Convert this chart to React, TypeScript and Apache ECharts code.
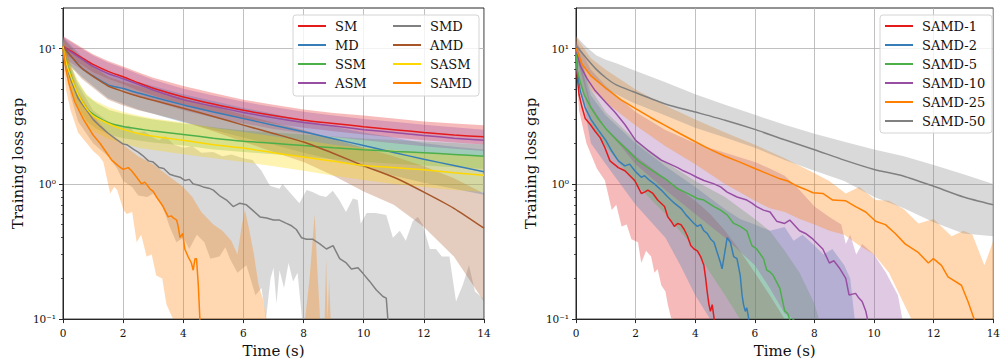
import React, { useEffect, useRef } from 'react';
import * as echarts from 'echarts';

type Pt = [number, number];

const FONT = 'DejaVu Serif';
const AXIS = '#262626';
const GRIDLINE = '#b0b0b0';

// ---------- axis ticks ----------
const xMin = 0, xMax = 14, xStep = 2;
const yMin = 0.1, yMax = 20;
const yMajorTicks = [0.1, 1, 10];
const yTickLabels = ['10⁻¹', '10⁰', '10¹'];
const yMinorTicks = [0.2, 0.3, 0.4, 0.5, 0.6, 0.7, 0.8, 0.9, 2, 3, 4, 5, 6, 7, 8, 9, 20];

// ---------- left panel ----------
const leftNames = ['SM', 'MD', 'SSM', 'ASM', 'SMD', 'AMD', 'SASM', 'SAMD'];
const leftColors = ['#e41a1c', '#377eb8', '#4daf4a', '#984ea3', '#808080', '#a65628', '#ffd700', '#ff7f00'];

const smX = [0, 0.62, 1, 1.5, 2, 2.5, 3, 4, 5, 6, 7, 8, 9, 10, 11, 12, 13, 14];
const smMean = [10.4, 8.6, 7.65, 6.8, 6.2, 5.6, 5.1, 4.4, 3.9, 3.5, 3.2, 2.96, 2.8, 2.65, 2.52, 2.4, 2.3, 2.23];
const smHi = [12.4, 10.2, 9.1, 8.1, 7.4, 6.7, 6.1, 5.3, 4.7, 4.2, 3.85, 3.55, 3.35, 3.2, 3.05, 2.9, 2.8, 2.72];
const smLo = [9.2, 7.6, 6.7, 6.0, 5.45, 4.9, 4.5, 3.85, 3.4, 3.05, 2.8, 2.6, 2.45, 2.32, 2.2, 2.1, 2.02, 1.96];

const asmMean = [10.3, 8.4, 7.4, 6.55, 6.0, 5.45, 4.95, 4.2, 3.75, 3.38, 3.08, 2.85, 2.68, 2.52, 2.4, 2.28, 2.18, 2.1];
const asmHi = [12.2, 10.0, 8.9, 7.9, 7.2, 6.5, 5.9, 5.05, 4.5, 4.05, 3.7, 3.42, 3.2, 3.02, 2.88, 2.74, 2.62, 2.52];
const asmLo = [8.6, 7.0, 6.1, 5.4, 5.0, 4.5, 4.1, 3.5, 3.1, 2.8, 2.55, 2.37, 2.22, 2.1, 2.0, 1.9, 1.82, 1.75];

const mdX = [0, 0.62, 1.5, 2, 2.5, 3, 4, 5, 6, 7, 8, 9, 10, 11, 12, 13, 14];
const mdMean = [10.4, 7.2, 5.4, 5.07, 4.7, 4.4, 3.84, 3.4, 3.04, 2.72, 2.43, 2.16, 1.92, 1.71, 1.52, 1.37, 1.23];
const mdHi = [12.2, 8.8, 6.5, 6.1, 5.65, 5.3, 4.6, 4.1, 3.65, 3.3, 2.95, 2.65, 2.4, 2.2, 2.0, 1.88, 1.8];
const mdLo = [8.5, 6.2, 4.3, 3.9, 3.55, 3.3, 2.85, 2.5, 2.2, 1.95, 1.7, 1.5, 1.32, 1.15, 1.02, 0.92, 0.83];

const amdMean = [10.4, 7.2, 5.3, 4.83, 4.45, 4.15, 3.63, 3.15, 2.72, 2.36, 2.04, 1.68, 1.36, 1.12, 0.87, 0.66, 0.47];
const amdHi = [12.0, 8.4, 6.2, 5.7, 5.3, 4.9, 4.3, 3.75, 3.25, 2.85, 2.5, 2.15, 1.85, 1.6, 1.35, 1.1, 0.85];
const amdLo = [8.5, 6.0, 4.2, 3.8, 3.5, 3.3, 2.9, 2.45, 2.05, 1.72, 1.45, 1.15, 0.88, 0.7, 0.48, 0.29, 0.135];

const ssmX = [0, 0.1, 0.23, 0.45, 0.79, 1.12, 1.56, 2, 2.67, 3, 4, 5, 6, 7, 8, 9, 10, 11, 12, 13, 14];
const ssmMean = [10.1, 8.2, 6.7, 4.8, 3.6, 3.15, 2.81, 2.66, 2.52, 2.46, 2.32, 2.18, 2.07, 2.0, 1.92, 1.85, 1.79, 1.74, 1.7, 1.65, 1.6];
const ssmHi = [11.8, 9.6, 7.9, 5.9, 4.5, 3.95, 3.5, 3.3, 3.08, 3.0, 2.8, 2.62, 2.48, 2.4, 2.32, 2.24, 2.17, 2.11, 2.06, 2.01, 1.96];
const ssmLo = [8.6, 6.9, 5.6, 3.9, 2.9, 2.55, 2.3, 2.18, 2.07, 2.02, 1.92, 1.8, 1.72, 1.66, 1.59, 1.52, 1.46, 1.41, 1.37, 1.33, 1.29];

const sasmX = [0, 0.1, 0.25, 0.5, 0.75, 1, 1.5, 2, 2.5, 3, 4, 5, 6, 7, 8, 9, 10, 11, 12, 13, 14];
const sasmMean = [10.4, 8.0, 6.3, 4.6, 3.7, 3.2, 2.8, 2.53, 2.36, 2.25, 2.1, 1.95, 1.84, 1.7, 1.58, 1.47, 1.37, 1.32, 1.27, 1.21, 1.16];
const sasmHi = [12.0, 9.5, 7.6, 5.8, 4.7, 4.2, 3.7, 3.4, 3.2, 3.05, 2.85, 2.6, 2.42, 2.25, 2.1, 1.95, 1.85, 1.78, 1.7, 1.65, 1.6];
const sasmLo = [8.8, 6.5, 5.0, 3.6, 2.85, 2.45, 2.15, 2.0, 1.85, 1.78, 1.66, 1.55, 1.45, 1.35, 1.25, 1.15, 1.07, 1.0, 0.95, 0.9, 0.87];

const smdLine: Pt[] = [[0, 10.4], [0.1, 7.8], [0.25, 6.0], [0.5, 4.3], [0.75, 3.6], [1, 3.0], [1.25, 2.65], [1.5, 2.37], [1.75, 2.15], [2, 1.97], [2.12, 1.95], [2.35, 1.8], [2.5, 1.72], [2.65, 1.62], [2.84, 1.48], [3.0, 1.45], [3.2, 1.32], [3.35, 1.3], [3.55, 1.18], [3.7, 1.15], [3.89, 1.12], [4.05, 1.06], [4.2, 1.08], [4.33, 1.0], [4.5, 0.98], [4.66, 0.95], [4.85, 0.93], [5.0, 0.9], [5.2, 0.82], [5.44, 0.76], [5.66, 0.68], [5.88, 0.72], [6.1, 0.7], [6.3, 0.64], [6.55, 0.57], [6.77, 0.56], [7.0, 0.54], [7.2, 0.54], [7.43, 0.51], [7.6, 0.49], [7.76, 0.46], [7.93, 0.4], [8.1, 0.39], [8.3, 0.39], [8.54, 0.36], [8.76, 0.33], [8.98, 0.35], [9.2, 0.28], [9.42, 0.26], [9.59, 0.235], [9.81, 0.24], [9.98, 0.217], [10.2, 0.19], [10.42, 0.164], [10.64, 0.147], [10.75, 0.143], [10.8, 0.102], [10.85, 0.06]];
const smdHi: Pt[] = [[0, 12.0], [0.25, 7.5], [0.5, 5.4], [1, 3.5], [1.5, 2.9], [2, 2.6], [2.2, 2.7], [2.4, 2.35], [2.7, 2.45], [3, 2.2], [3.2, 2.1], [3.4, 2.25], [3.7, 1.95], [4, 1.85], [4.3, 1.9], [4.6, 1.7], [5, 1.72], [5.3, 1.6], [5.6, 1.65], [6, 1.55], [6.3, 1.5], [6.6, 1.25], [6.88, 0.97], [7.2, 0.92], [7.3, 1.0], [7.53, 0.87], [7.86, 0.72], [8.1, 0.9], [8.3, 0.87], [8.53, 0.82], [8.75, 0.8], [8.97, 0.89], [9.19, 0.76], [9.41, 0.62], [9.64, 0.78], [9.8, 0.76], [9.9, 0.51], [10.1, 0.61], [10.4, 0.61], [10.75, 0.59], [10.97, 0.4], [11.2, 0.45], [11.4, 0.38], [11.63, 0.53], [11.8, 0.57], [11.96, 0.5], [12.2, 0.33], [12.4, 0.33], [12.6, 0.29], [12.85, 0.29], [13.07, 0.135], [13.3, 0.18], [13.5, 0.25], [13.7, 0.16], [14, 0.14]];
const smdLo: Pt[] = [[0, 8.8], [0.25, 4.5], [0.5, 2.9], [1, 2.0], [1.5, 1.6], [1.8, 1.3], [2.0, 1.05], [2.3, 0.95], [2.5, 0.82], [2.8, 0.8], [3.0, 0.85], [3.2, 0.76], [3.4, 0.6], [3.55, 0.48], [3.77, 0.37], [4.0, 0.4], [4.2, 0.33], [4.45, 0.42], [4.7, 0.37], [4.9, 0.28], [5.2, 0.29], [5.4, 0.34], [5.55, 0.28], [5.8, 0.22], [6.1, 0.25], [6.4, 0.15], [6.6, 0.17], [6.75, 0.09], [6.9, 0.2], [7.0, 0.24], [7.1, 0.13], [7.2, 0.23], [7.35, 0.17], [7.5, 0.26], [7.65, 0.19], [7.8, 0.22], [7.95, 0.07], [14, 0.05]];

const samdLine: Pt[] = [[0, 10.0], [0.1, 7.0], [0.2, 5.5], [0.4, 4.0], [0.68, 3.0], [1.0, 2.3], [1.23, 2.0], [1.45, 1.7], [1.62, 1.5], [1.84, 1.36], [2.0, 1.28], [2.17, 1.32], [2.28, 1.25], [2.45, 1.12], [2.61, 1.0], [2.72, 1.03], [2.89, 0.92], [3.0, 0.88], [3.11, 0.8], [3.33, 0.68], [3.5, 0.57], [3.6, 0.58], [3.67, 0.56], [3.78, 0.54], [3.83, 0.485], [3.89, 0.4], [3.98, 0.43], [4.05, 0.33], [4.16, 0.29], [4.27, 0.26], [4.33, 0.23], [4.39, 0.28], [4.44, 0.28], [4.5, 0.178], [4.55, 0.102], [4.6, 0.05]];
const samdHi: Pt[] = [[0, 12.0], [0.1, 9.5], [0.25, 7.2], [0.5, 4.8], [1, 3.2], [1.5, 2.4], [2, 1.95], [2.5, 1.6], [3, 1.4], [3.5, 1.15], [4, 0.95], [4.3, 0.8], [4.6, 0.62], [5, 0.5], [5.3, 0.45], [5.6, 0.38], [5.8, 0.3], [5.95, 0.5], [6.05, 0.64], [6.2, 0.45], [6.35, 0.3], [6.5, 0.18], [6.65, 0.14], [6.77, 0.1], [6.85, 0.05], [8.05, 0.05], [8.2, 0.2], [8.37, 0.6], [8.45, 0.25], [8.55, 0.05], [8.7, 0.05], [8.75, 0.28], [8.8, 0.08], [8.85, 0.2], [8.9, 0.05], [14, 0.05]];
const samdLo: Pt[] = [[0, 8.0], [0.1, 5.0], [0.25, 3.5], [0.5, 2.4], [1, 1.75], [1.2, 1.6], [1.34, 1.45], [1.57, 0.85], [1.7, 0.95], [1.8, 0.9], [2.01, 0.64], [2.12, 0.6], [2.3, 0.62], [2.45, 0.37], [2.6, 0.42], [2.78, 0.29], [2.95, 0.3], [3.1, 0.21], [3.3, 0.2], [3.44, 0.128], [3.66, 0.1], [3.8, 0.06], [14, 0.05]];

// ---------- right panel ----------
const rightNames = ['SAMD-1', 'SAMD-2', 'SAMD-5', 'SAMD-10', 'SAMD-25', 'SAMD-50'];
const rightColors = ['#e41a1c', '#377eb8', '#4daf4a', '#984ea3', '#ff7f00', '#808080'];

const s50X = [0, 0.35, 0.69, 1.0, 1.35, 1.9, 3, 4, 5, 6, 7, 8, 9, 10, 11, 12, 13, 14];
const s50Mean = [10.6, 8.5, 7.0, 6.1, 5.4, 4.83, 3.9, 3.4, 2.96, 2.53, 2.12, 1.79, 1.5, 1.28, 1.14, 0.96, 0.8, 0.7];
const s50Hi = [12.4, 10.3, 8.9, 8.3, 7.8, 7.0, 5.64, 4.6, 3.85, 3.24, 2.74, 2.35, 2.05, 1.8, 1.6, 1.38, 1.18, 1.0];
const s50Lo = [9.6, 7.0, 5.8, 5.0, 4.6, 4.0, 3.2, 2.6, 2.2, 1.85, 1.5, 1.25, 1.05, 0.8, 0.66, 0.52, 0.43, 0.41];

const s25Line: Pt[] = [[0, 10.1], [0.2, 7.7], [0.5, 6.3], [1, 5.1], [1.5, 4.2], [2, 3.6], [2.5, 3.1], [3, 2.7], [3.5, 2.35], [4, 2.05], [4.5, 1.8], [5, 1.6], [5.5, 1.45], [6, 1.3], [6.5, 1.17], [6.84, 1.09], [7.1, 1.05], [7.39, 0.97], [7.7, 0.91], [7.95, 0.86], [8.28, 0.85], [8.61, 0.76], [9.05, 0.75], [9.38, 0.68], [9.72, 0.62], [10.05, 0.53], [10.38, 0.5], [10.71, 0.43], [11.04, 0.36], [11.49, 0.31], [11.82, 0.26], [11.99, 0.28], [12.26, 0.25], [12.48, 0.205], [12.93, 0.178], [13.15, 0.135], [13.37, 0.098], [13.5, 0.06]];
const s25Hi: Pt[] = [[0, 12.2], [0.5, 8.5], [1, 7.0], [2, 5.0], [3, 3.8], [4, 3.0], [5, 2.4], [6, 1.95], [7, 1.55], [8, 1.2], [8.5, 1.05], [9.05, 0.85], [9.5, 0.95], [10.05, 0.76], [10.5, 0.75], [11, 0.65], [11.49, 0.51], [12, 0.55], [12.6, 0.41], [13, 0.45], [13.3, 0.42], [13.7, 0.25], [14, 0.38]];
const s25Lo: Pt[] = [[0, 9.0], [0.5, 5.0], [1, 4.0], [2, 2.7], [3, 1.9], [4, 1.4], [5, 1.0], [6, 0.75], [6.5, 0.66], [7, 0.62], [7.5, 0.55], [8, 0.5], [8.5, 0.45], [9, 0.42], [9.5, 0.35], [10, 0.3], [10.5, 0.22], [11, 0.13], [11.25, 0.1], [11.4, 0.06], [14, 0.05]];

const s10Line: Pt[] = [[0, 10.0], [0.14, 7.5], [0.37, 6.0], [0.64, 4.9], [1.0, 4.0], [1.3, 3.4], [1.64, 2.75], [2.0, 2.1], [2.4, 1.78], [2.86, 1.5], [3.1, 1.42], [3.41, 1.32], [3.6, 1.25], [3.85, 1.18], [4.05, 1.12], [4.29, 1.06], [4.63, 1.0], [4.85, 0.95], [5.07, 0.87], [5.4, 0.8], [5.73, 0.76], [5.9, 0.72], [6.06, 0.68], [6.29, 0.64], [6.51, 0.62], [6.73, 0.53], [7.0, 0.51], [7.17, 0.54], [7.5, 0.45], [7.7, 0.43], [7.95, 0.39], [8.28, 0.33], [8.5, 0.26], [8.65, 0.27], [8.83, 0.24], [9.05, 0.2], [9.16, 0.151], [9.38, 0.155], [9.49, 0.143], [9.6, 0.135], [9.72, 0.115], [9.77, 0.102], [9.82, 0.06]];
const s10Hi: Pt[] = [[0, 11.5], [0.5, 7.0], [1, 5.3], [2, 3.4], [3, 2.5], [4, 2.0], [5, 1.7], [6, 1.45], [6.5, 1.3], [7, 1.15], [7.5, 0.9], [8, 0.68], [8.5, 0.57], [8.9, 0.5], [9.05, 0.36], [9.2, 0.42], [9.4, 0.3], [9.6, 0.36], [10, 0.3], [10.4, 0.22], [10.8, 0.15], [10.95, 0.09], [14, 0.05]];
const s10Lo: Pt[] = [[0, 9.0], [0.5, 3.6], [1, 2.6], [2, 1.4], [3, 0.9], [4, 0.6], [5, 0.4], [6, 0.25], [6.5, 0.17], [7, 0.11], [7.3, 0.07], [14, 0.05]];

const s5Line: Pt[] = [[0, 9.5], [0.04, 7.0], [0.15, 5.6], [0.27, 4.6], [0.49, 3.7], [0.71, 3.1], [1.04, 2.5], [1.37, 2.1], [1.7, 1.8], [2.08, 1.48], [2.41, 1.32], [2.74, 1.18], [3.07, 1.06], [3.41, 0.92], [3.74, 0.85], [4.07, 0.78], [4.29, 0.76], [4.63, 0.68], [4.85, 0.64], [5.07, 0.59], [5.29, 0.51], [5.51, 0.485], [5.73, 0.45], [5.9, 0.35], [6.06, 0.33], [6.29, 0.28], [6.4, 0.23], [6.51, 0.223], [6.62, 0.21], [6.84, 0.169], [7.0, 0.115], [7.1, 0.11], [7.2, 0.095], [7.3, 0.1], [7.4, 0.06]];
const s5Hi: Pt[] = [[0, 11.0], [0.5, 5.0], [1, 3.4], [2, 2.1], [3, 1.45], [4, 1.05], [5, 0.8], [6, 0.55], [6.5, 0.45], [7, 0.32], [7.5, 0.22], [8, 0.13], [8.15, 0.08], [14, 0.05]];
const s5Lo: Pt[] = [[0, 8.3], [0.5, 2.8], [1, 1.9], [2, 1.0], [3, 0.6], [4, 0.33], [4.5, 0.22], [5, 0.15], [5.5, 0.1], [6, 0.06], [14, 0.05]];

const s2Line: Pt[] = [[0, 9.5], [0.05, 6.5], [0.15, 4.8], [0.3, 3.7], [0.5, 3.0], [0.75, 2.5], [1.0, 2.1], [1.2, 1.75], [1.42, 1.48], [1.64, 1.36], [1.8, 1.4], [1.97, 1.25], [2.19, 1.12], [2.3, 1.15], [2.47, 1.06], [2.63, 1.0], [2.86, 0.9], [3.08, 0.8], [3.3, 0.72], [3.52, 0.66], [3.69, 0.59], [3.85, 0.54], [3.96, 0.51], [4.07, 0.485], [4.18, 0.5], [4.29, 0.45], [4.4, 0.43], [4.52, 0.39], [4.63, 0.37], [4.74, 0.31], [4.85, 0.26], [4.9, 0.235], [5.01, 0.33], [5.07, 0.4], [5.18, 0.37], [5.29, 0.29], [5.4, 0.28], [5.51, 0.21], [5.57, 0.151], [5.62, 0.128], [5.68, 0.114], [5.73, 0.121], [5.79, 0.102], [5.85, 0.06]];
const s2Hi: Pt[] = [[0, 11.5], [0.5, 4.5], [1, 3.2], [2, 2.0], [3, 1.35], [4, 0.95], [5, 0.65], [5.5, 0.55], [6, 0.5], [6.5, 0.45], [7, 0.48], [7.3, 0.38], [7.6, 0.42], [8, 0.35], [8.3, 0.3], [8.6, 0.33], [9, 0.25], [9.2, 0.2], [9.35, 0.1], [9.4, 0.06], [14, 0.05]];
const s2Lo: Pt[] = [[0, 8.0], [0.5, 2.0], [1, 1.4], [2, 0.7], [3, 0.4], [3.5, 0.25], [4, 0.15], [4.5, 0.09], [5, 0.05], [14, 0.05]];

const s1Line: Pt[] = [[0, 9.0], [0.05, 6.0], [0.1, 4.6], [0.2, 3.7], [0.31, 3.05], [0.48, 2.75], [0.64, 2.45], [0.81, 2.2], [0.97, 1.85], [1.14, 1.48], [1.42, 1.32], [1.64, 1.25], [1.86, 1.12], [1.97, 1.06], [2.08, 0.95], [2.19, 0.85], [2.3, 0.87], [2.41, 0.9], [2.58, 0.85], [2.74, 0.76], [2.97, 0.68], [3.08, 0.57], [3.19, 0.53], [3.3, 0.485], [3.41, 0.51], [3.52, 0.5], [3.63, 0.46], [3.74, 0.41], [3.85, 0.35], [3.96, 0.33], [4.07, 0.32], [4.18, 0.29], [4.29, 0.25], [4.35, 0.2], [4.4, 0.16], [4.46, 0.128], [4.51, 0.114], [4.57, 0.128], [4.63, 0.102], [4.68, 0.06]];
const s1Hi: Pt[] = [[0, 11.0], [0.5, 3.8], [1, 2.6], [2, 1.6], [3, 1.1], [4, 0.75], [4.5, 0.6], [5, 0.45], [5.5, 0.32], [6, 0.22], [6.5, 0.15], [7, 0.1], [7.2, 0.06], [14, 0.05]];
const s1Lo: Pt[] = [[0, 8.0], [0.1, 3.5], [0.35, 2.0], [0.7, 1.3], [0.97, 1.06], [1.2, 0.64], [1.35, 0.7], [1.53, 0.485], [1.7, 0.5], [1.86, 0.39], [2.08, 0.37], [2.19, 0.26], [2.35, 0.32], [2.52, 0.29], [2.63, 0.22], [2.74, 0.235], [2.86, 0.178], [3.0, 0.16], [3.08, 0.128], [3.19, 0.102], [3.3, 0.06], [14, 0.05]];

// ---------- helpers ----------
const zip = (xs: number[], ys: number[]): Pt[] => xs.map((x, i) => [x, ys[i]] as Pt);
const clampY = (v: number) => Math.min(yMax, Math.max(yMin, v));

function bandSeries(hi: Pt[], lo: Pt[], color: string, gi: number) {
  return {
    type: 'custom',
    xAxisIndex: gi,
    yAxisIndex: gi * 2,
    clip: true,
    silent: true,
    z: 1,
    data: [[hi[0][0], clampY(hi[0][1])]],
    renderItem: (_params: any, api: any) => {
      const pts: number[][] = [];
      for (let i = 0; i < hi.length; i++) pts.push(api.coord([hi[i][0], clampY(hi[i][1])]));
      for (let i = lo.length - 1; i >= 0; i--) pts.push(api.coord([lo[i][0], clampY(lo[i][1])]));
      return {
        type: 'polygon',
        shape: { points: pts },
        style: { fill: color, opacity: 0.3 },
        silent: true,
      };
    },
  };
}

function lineSeries(name: string, data: Pt[], color: string, gi: number, smooth: boolean) {
  return {
    type: 'line',
    name,
    xAxisIndex: gi,
    yAxisIndex: gi * 2,
    data,
    showSymbol: false,
    symbol: 'none',
    smooth: smooth ? 0.2 : false,
    clip: true,
    silent: true,
    z: 3,
    lineStyle: { color, width: 1.5 },
    itemStyle: { color },
  };
}

function xAxisFor(gi: number) {
  return {
    type: 'value',
    gridIndex: gi,
    min: xMin,
    max: xMax,
    interval: xStep,
    name: 'Time (s)',
    nameLocation: 'middle',
    nameGap: 23,
    nameTextStyle: { fontFamily: FONT, fontSize: 15, color: '#111' },
    axisLine: { show: true, onZero: false, lineStyle: { color: AXIS, width: 1 } },
    axisTick: { show: true, length: 4, lineStyle: { color: AXIS, width: 1 } },
    axisLabel: { fontFamily: FONT, fontSize: 10.5, color: '#111', margin: 8 },
    splitLine: { show: true, lineStyle: { color: GRIDLINE, width: 0.8 } },
  };
}

function yLabel(v: number) {
  for (let i = 0; i < yMajorTicks.length; i++) {
    if (Math.abs(Math.log10(v) - Math.log10(yMajorTicks[i])) < 1e-6) return yTickLabels[i];
  }
  return '';
}

function yAxesFor(gi: number) {
  return [
    {
      type: 'log',
      logBase: 10,
      gridIndex: gi,
      min: yMin,
      max: yMax,
      position: 'left',
      offset: 0,
      name: 'Training loss gap',
      nameLocation: 'middle',
      nameGap: 38,
      nameRotate: 90,
      nameTextStyle: { fontFamily: FONT, fontSize: 15, color: '#111' },
      axisLine: { show: true, onZero: false, lineStyle: { color: AXIS, width: 1 } },
      axisTick: { show: true, length: 4, customValues: yMajorTicks, lineStyle: { color: AXIS, width: 1 } },
      axisLabel: { customValues: yMajorTicks, formatter: yLabel, fontFamily: FONT, fontSize: 10.5, color: '#111', margin: 7 },
      splitLine: { show: true, lineStyle: { color: GRIDLINE, width: 0.8 } },
    },
    {
      type: 'log',
      logBase: 10,
      gridIndex: gi,
      min: yMin,
      max: yMax,
      position: 'left',
      offset: 0,
      axisLine: { show: false },
      axisTick: { show: true, length: 2, customValues: yMinorTicks, lineStyle: { color: AXIS, width: 0.8 } },
      axisLabel: { show: false },
      splitLine: { show: false },
    },
  ];
}

function legendFor(names: string[], left: number, top: number) {
  return {
    data: names,
    orient: 'vertical',
    left,
    top,
    padding: 0,
    itemWidth: 28,
    itemHeight: 2,
    itemGap: 5,
    icon: 'rect',
    selectedMode: false,
    z: 20,
    textStyle: { fontFamily: FONT, fontSize: 13, color: '#111', lineHeight: 14, padding: [0, 0, 0, 4] },
  };
}

export default function App() {
  const ref = useRef<HTMLDivElement>(null);

  useEffect(() => {
    document.body.style.margin = '0';
    if (!ref.current) return;
    const chart = echarts.init(ref.current, undefined, { renderer: 'svg' });

    const leftLines: [string, Pt[], boolean][] = [
      ['SM', zip(smX, smMean), true],
      ['MD', zip(mdX, mdMean), true],
      ['SSM', zip(ssmX, ssmMean), true],
      ['ASM', zip(smX, asmMean), true],
      ['SMD', smdLine, false],
      ['AMD', zip(mdX, amdMean), true],
      ['SASM', zip(sasmX, sasmMean), true],
      ['SAMD', samdLine, false],
    ];
    const leftBands: [Pt[], Pt[]][] = [
      [zip(smX, smHi), zip(smX, smLo)],
      [zip(mdX, mdHi), zip(mdX, mdLo)],
      [zip(ssmX, ssmHi), zip(ssmX, ssmLo)],
      [zip(smX, asmHi), zip(smX, asmLo)],
      [smdHi, smdLo],
      [zip(mdX, amdHi), zip(mdX, amdLo)],
      [zip(sasmX, sasmHi), zip(sasmX, sasmLo)],
      [samdHi, samdLo],
    ];
    const rightLines: [string, Pt[], boolean][] = [
      ['SAMD-1', s1Line, false],
      ['SAMD-2', s2Line, false],
      ['SAMD-5', s5Line, false],
      ['SAMD-10', s10Line, false],
      ['SAMD-25', s25Line, false],
      ['SAMD-50', zip(s50X, s50Mean), true],
    ];
    const rightBands: [Pt[], Pt[]][] = [
      [s1Hi, s1Lo],
      [s2Hi, s2Lo],
      [s5Hi, s5Lo],
      [s10Hi, s10Lo],
      [s25Hi, s25Lo],
      [zip(s50X, s50Hi), zip(s50X, s50Lo)],
    ];

    const series: any[] = [];
    leftBands.forEach((b, i) => series.push(bandSeries(b[0], b[1], leftColors[i], 0)));
    rightBands.forEach((b, i) => series.push(bandSeries(b[0], b[1], rightColors[i], 1)));
    leftLines.forEach((l) => series.push(lineSeries(l[0], l[1], leftColors[leftNames.indexOf(l[0])], 0, l[2])));
    rightLines.forEach((l, i) => series.push(lineSeries(l[0], l[1], rightColors[i], 1, l[2])));

    const option: any = {
      animation: false,
      backgroundColor: '#ffffff',
      textStyle: { fontFamily: FONT },
      grid: [
        { left: 63, top: 8, width: 421, height: 318, show: true, borderColor: AXIS, borderWidth: 1, backgroundColor: 'transparent' },
        { left: 576, top: 8, width: 422, height: 318, show: true, borderColor: AXIS, borderWidth: 1, backgroundColor: 'transparent' },
      ],
      xAxis: [xAxisFor(0), xAxisFor(1)],
      yAxis: [...yAxesFor(0), ...yAxesFor(1)],
      legend: [
        legendFor(['SM', 'MD', 'SSM', 'ASM'], 298, 19),
        legendFor(['SMD', 'AMD', 'SASM', 'SAMD'], 393, 19),
        legendFor(rightNames, 885, 19),
      ],
      graphic: [
        { type: 'rect', z: 10, shape: { x: 293, y: 15, width: 186, height: 81, r: 3 }, style: { fill: 'rgba(255,255,255,0.8)', stroke: '#d4d4d4', lineWidth: 1 } },
        { type: 'rect', z: 10, shape: { x: 880, y: 15, width: 112, height: 118, r: 3 }, style: { fill: 'rgba(255,255,255,0.8)', stroke: '#d4d4d4', lineWidth: 1 } },
      ],
      series,
    };
    chart.setOption(option);
    return () => chart.dispose();
  }, []);

  return <div ref={ref} style={{ width: 1003, height: 363 }} />;
}
